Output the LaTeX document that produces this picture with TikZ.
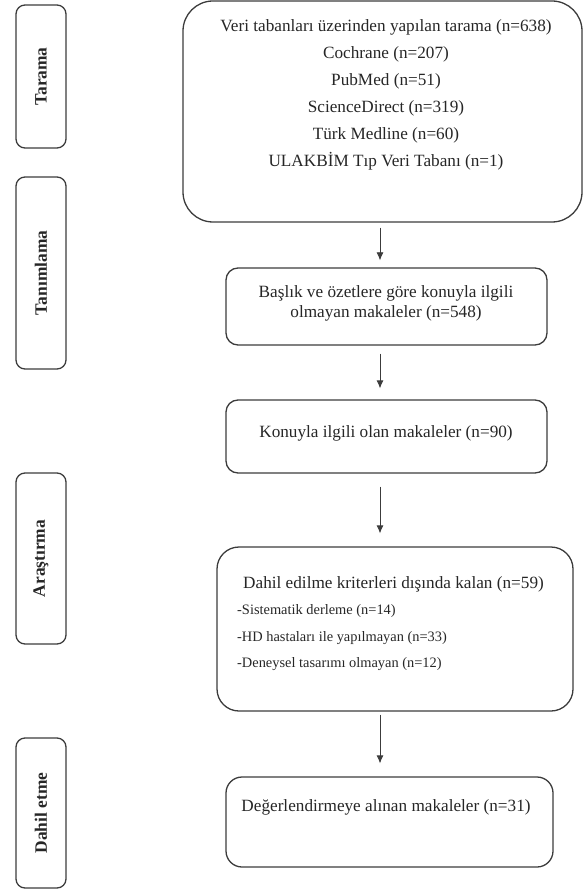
\documentclass[tikz,border=0pt]{standalone}
\usepackage{fontspec}
\setmainfont{Liberation Serif}
\usepackage{xcolor}
\usetikzlibrary{arrows.meta,positioning}
\definecolor{linegray}{HTML}{3C3C3C}
\definecolor{textgray}{HTML}{262626}

\begin{document}
\begin{tikzpicture}[x=1pt,y=-1pt,>=Latex,
  stagebox/.style={draw=linegray,line width=1.3pt,rounded corners=9pt,rotate=90,
    minimum height=50pt,inner sep=0pt,text=textgray,
    font=\fontsize{17.4}{18}\selectfont\bfseries},
  flowbox/.style={draw=linegray,line width=1.3pt,inner sep=0pt},
  flowtext/.style={font=\fontsize{17.2}{27}\selectfont,text=textgray,align=center,inner sep=0pt},
  itemtext/.style={font=\fontsize{14.4}{26.5}\selectfont,text=textgray,align=left,inner sep=0pt},
  flowarrow/.style={->,draw=linegray,line width=0.8pt,>={Latex[length=8pt,width=7pt]}}]
\useasboundingbox (0,0) rectangle (584,890);

% phases on the left
\node[stagebox,minimum width=143pt] (tarama) at (41,76.5) {Tarama};
\node[stagebox,minimum width=192pt] (tanim) at (41,273) {Tanımlama};
\node[stagebox,minimum width=171pt] (arastir) at (41,558.5) {Araştırma};
\node[stagebox,minimum width=150pt] (dahil) at (41,813) {Dahil etme};

% flow boxes
\node[flowbox,rounded corners=30pt,minimum width=399pt,minimum height=221pt] (b1) at (382.5,111.5) {};
\node[flowbox,rounded corners=12pt,minimum width=321pt,minimum height=77pt] (b2) at (386.5,306.5) {};
\node[flowbox,rounded corners=12pt,minimum width=321pt,minimum height=73pt] (b3) at (386.5,436.5) {};
\node[flowbox,rounded corners=22pt,minimum width=356pt,minimum height=164pt] (b4) at (395,629) {};
\node[flowbox,rounded corners=16pt,minimum width=327pt,minimum height=90pt] (b5) at (389.5,822) {};

% texts
\node[flowtext] (t1) at (386,95) {Veri tabanları üzerinden yapılan tarama (n=638)\\
  Cochrane (n=207)\\ PubMed (n=51)\\ ScienceDirect (n=319)\\
  Türk Medline (n=60)\\ ULAKBİM Tıp Veri Tabanı (n=1)};
\node[flowtext,font=\fontsize{17.2}{20}\selectfont] (t2) at (386,303) {Başlık ve özetlere göre konuyla ilgili\\ olmayan makaleler (n=548)};
\node[flowtext] (t3) at (386,433) {Konuyla ilgili olan makaleler (n=90)};
\node[flowtext] (t4) at (393.5,584) {Dahil edilme kriterleri dışında kalan (n=59)};
\node[itemtext,anchor=west] (t4i) at (237,638) {-Sistematik derleme (n=14)\\
  -HD hastaları ile yapılmayan (n=33)\\ -Deneysel tasarımı olmayan (n=12)};
\node[flowtext] (t5) at (386,807) {Değerlendirmeye alınan makaleler (n=31)};

% arrows
\coordinate (ax) at (380,0);
\draw[flowarrow,shorten <=5pt,shorten >=7pt] (b1.south -| ax) -- (b2.north -| ax);
\draw[flowarrow,shorten <=8pt,shorten >=11pt] (b2.south -| ax) -- (b3.north -| ax);
\draw[flowarrow,shorten <=13pt,shorten >=13pt] (b3.south -| ax) -- (b4.north -| ax);
\draw[flowarrow,shorten <=3pt,shorten >=13pt] (b4.south -| ax) -- (b5.north -| ax);
\end{tikzpicture}
\end{document}
